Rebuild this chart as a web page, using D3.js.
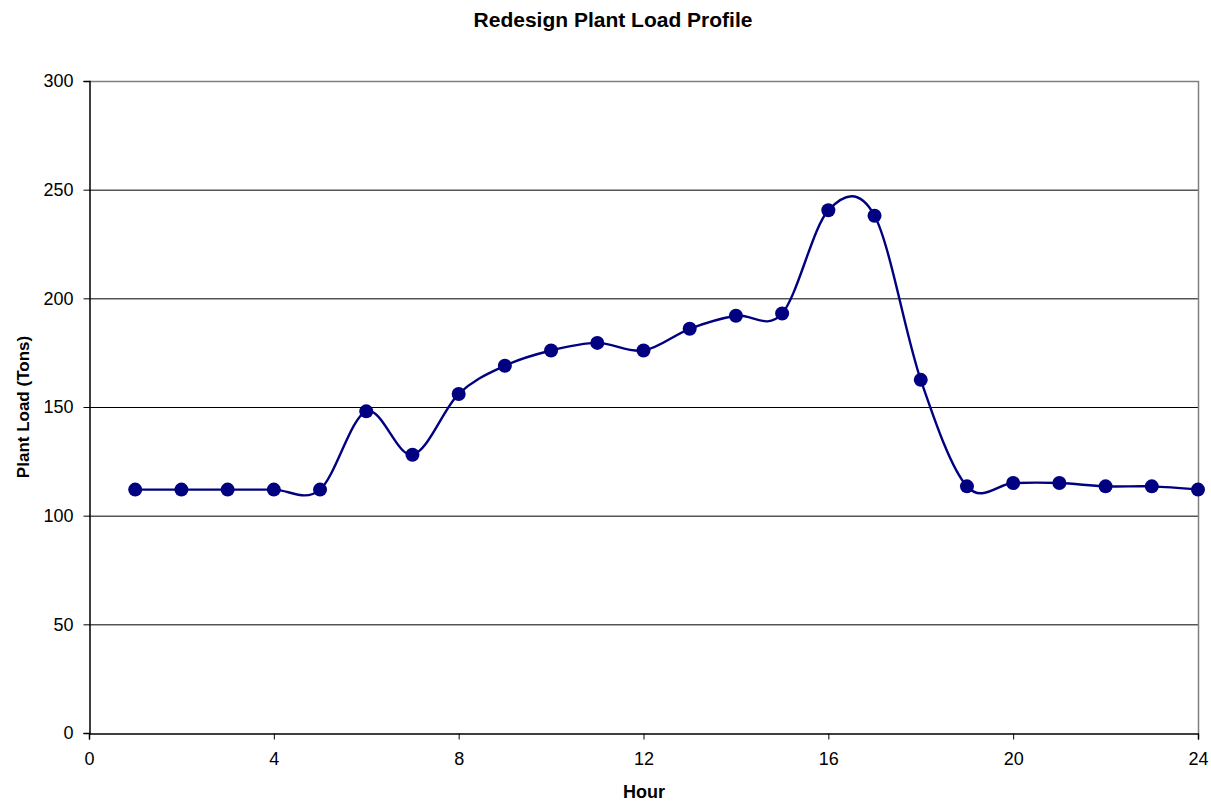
<!DOCTYPE html>
<html>
<head>
<meta charset="utf-8">
<script src="https://cdn.jsdelivr.net/npm/d3@7"></script>
<style>
  body { margin: 0; background: #fff; }
  text { font-family: Arial, "Liberation Sans", sans-serif; }
</style>
</head>
<body>
<div id="chart"></div>
<script>
// data
var hours  = [1, 2, 3, 4, 5, 6, 7, 8, 9, 10, 11, 12, 13, 14, 15, 16, 17, 18, 19, 20, 21, 22, 23, 24];
var load   = [112, 112, 112, 112, 112, 148, 128, 156, 169, 176, 179.5, 176, 186, 192, 193, 240.5, 238, 162.5, 113.5, 115, 115, 113.5, 113.5, 112];
var xTicks = [0, 4, 8, 12, 16, 20, 24];
var yTicks = [0, 50, 100, 150, 200, 250, 300];

var data = hours.map((h, i) => [h, load[i]]);

// size
var chart_width  = 1211;
var chart_height = 801;
var plot_left = 89, plot_right = 1198, plot_top = 81, plot_bottom = 733;

var svg = d3.select("#chart")
	.append("svg")
	.attr("width", chart_width)
	.attr("height", chart_height);

// scales
const x_scale = d3.scaleLinear().domain([0, 24]).range([plot_left, plot_right]);
const y_scale = d3.scaleLinear().domain([0, 300]).range([plot_bottom, plot_top]);

// gridlines
svg.append("g")
	.selectAll("line")
	.data(yTicks.slice(1, -1))
	.enter()
	.append("line")
	.attr("x1", plot_left).attr("x2", plot_right)
	.attr("y1", d => y_scale(d) + 0.5).attr("y2", d => y_scale(d) + 0.5)
	.attr("stroke", "#000").attr("stroke-width", 1);

// plot border (top and right, grey)
svg.append("path")
	.attr("d", `M${plot_left},${plot_top + 0.5}H${plot_right + 0.5}V${plot_bottom}`)
	.attr("fill", "none")
	.attr("stroke", "#808080")
	.attr("stroke-width", 1.5);

// axes
var xAxis = svg.append("g")
	.attr("transform", `translate(0,${plot_bottom + 0.5})`)
	.call(d3.axisBottom(x_scale).tickValues(xTicks).tickSize(6).tickSizeOuter(6).tickPadding(13));
var yAxis = svg.append("g")
	.attr("transform", `translate(${plot_left + 0.5},0)`)
	.call(d3.axisLeft(y_scale).tickValues(yTicks).tickSize(6).tickSizeOuter(6).tickPadding(10));

[xAxis, yAxis].forEach(a => {
	a.select(".domain").attr("stroke", "#000").attr("stroke-width", 1.5);
	a.selectAll(".tick line").attr("stroke", "#000");
	a.selectAll(".tick text")
		.attr("font-size", 18)
		.attr("font-family", "Arial, 'Liberation Sans', sans-serif")
		.attr("fill", "#000");
});

// smoothed line (Excel-like)
var line = d3.line()
	.x(d => x_scale(d[0]))
	.y(d => y_scale(d[1]))
	.curve(d3.curveCardinal.tension(0));

svg.append("path")
	.datum(data)
	.attr("d", line)
	.attr("fill", "none")
	.attr("stroke", "#000080")
	.attr("stroke-width", 2.4);

// markers
svg.selectAll("circle")
	.data(data)
	.enter()
	.append("circle")
	.attr("cx", d => x_scale(d[0]))
	.attr("cy", d => y_scale(d[1]))
	.attr("r", 7)
	.attr("fill", "#000080");

// title and axis labels
svg.append("text")
	.attr("x", 613).attr("y", 27)
	.attr("text-anchor", "middle")
	.attr("font-size", 21).attr("font-weight", "bold")
	.text("Redesign Plant Load Profile");

svg.append("text")
	.attr("x", 644).attr("y", 798)
	.attr("text-anchor", "middle")
	.attr("font-size", 18).attr("font-weight", "bold")
	.text("Hour");

svg.append("text")
	.attr("transform", "translate(29,407) rotate(-90)")
	.attr("text-anchor", "middle")
	.attr("font-size", 17).attr("font-weight", "bold")
	.text("Plant Load (Tons)");
</script>
</body>
</html>
